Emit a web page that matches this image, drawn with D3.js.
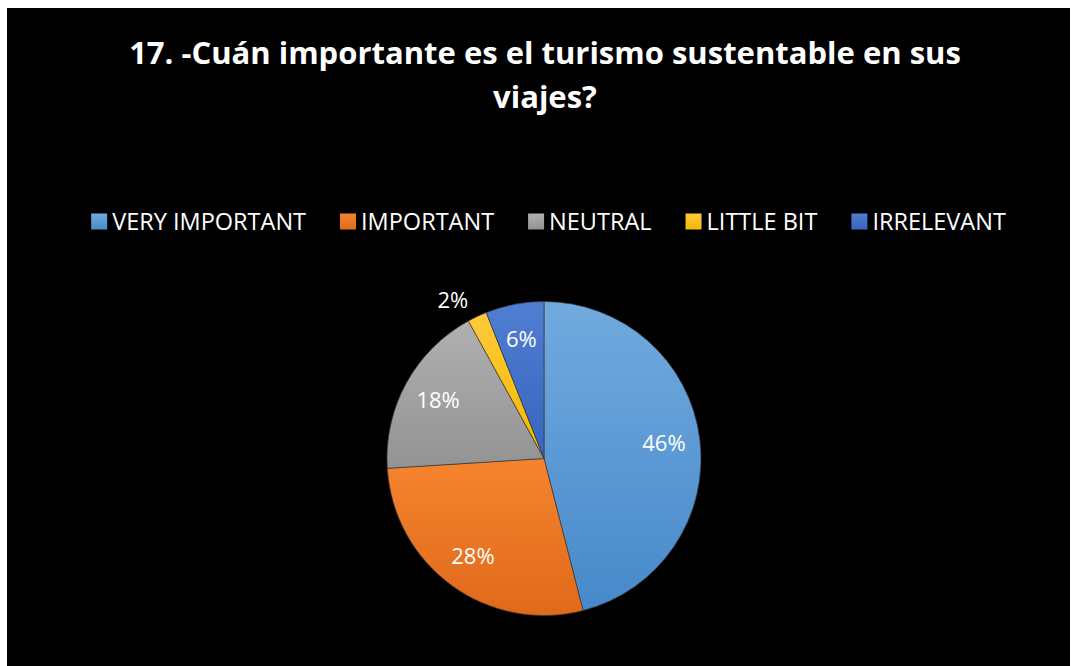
<!DOCTYPE html>
<html>
<head>
<meta charset="utf-8">
<script src="https://cdn.jsdelivr.net/npm/d3@7"></script>
<style>
  html, body { margin: 0; padding: 0; background: #ffffff; }
  svg { display: block; }
</style>
</head>
<body>
<svg id="chart" width="1073" height="666"></svg>
<script>
// ---- data ----
const categories = ["VERY IMPORTANT", "IMPORTANT", "NEUTRAL", "LITTLE BIT", "IRRELEVANT"];
const values = [46, 28, 18, 2, 6];
const colorsTop = ["#72aadf", "#f5842f", "#b0b0b0", "#ffca3a", "#4f7ed2"];
const colorsBottom = ["#4689ca", "#e0691a", "#939393", "#f5b800", "#3865bd"];
const titleLines = ["17. -Cuán importante es el turismo sustentable en sus", "viajes?"];

const W = 1073, H = 666;
const svg = d3.select("#chart");

// background panel
svg.append("rect").attr("x", 7).attr("y", 8).attr("width", 1063).attr("height", 658).attr("fill", "#000");

// gradients
const defs = svg.append("defs");
categories.forEach((c, i) => {
  const g = defs.append("linearGradient").attr("id", "grad" + i)
    .attr("x1", 0).attr("y1", 0).attr("x2", 0).attr("y2", 1);
  g.append("stop").attr("offset", "0%").attr("stop-color", colorsTop[i]);
  g.append("stop").attr("offset", "100%").attr("stop-color", colorsBottom[i]);
});

// title
const title = svg.append("text")
  .attr("text-anchor", "middle")
  .attr("font-family", "'Open Sans', sans-serif")
  .attr("font-weight", "bold")
  .attr("font-size", 31)
  .attr("fill", "#fff");
titleLines.forEach((t, i) => {
  title.append("tspan").attr("x", 545).attr("y", 64 + i * 44).text(t);
});

// legend
const legendFont = 23.5;
const legend = svg.append("g").attr("font-family", "'Open Sans', sans-serif").attr("font-size", legendFont).attr("fill", "#fff");
const items = legend.selectAll("g").data(categories).join("g");
items.append("rect").attr("width", 16).attr("height", 16).attr("y", -16)
  .attr("fill", (d, i) => `url(#grad${i})`);
items.append("text").attr("x", 21).attr("y", 0).text(d => d);
let xpos = 0;
const gapItem = 34;
items.each(function () {
  const g = d3.select(this);
  const w = g.select("text").node().getComputedTextLength() + 21;
  g.attr("transform", `translate(${xpos},0)`);
  xpos += w + gapItem;
});
const totalW = xpos - gapItem;
legend.attr("transform", `translate(${548.5 - totalW / 2},229.5)`);

// pie
const cx = 544, cy = 458.5, r = 157;
const pie = d3.pie().sort(null).value(d => d);
const arcs = pie(values);
const arc = d3.arc().innerRadius(0).outerRadius(r);
const g = svg.append("g").attr("transform", `translate(${cx},${cy})`);
g.selectAll("path").data(arcs).join("path")
  .attr("d", arc)
  .attr("fill", (d, i) => `url(#grad${i})`)
  .attr("stroke", "#3a3a3a")
  .attr("stroke-width", 0.7);

const total = d3.sum(values);
const inArc = d3.arc().innerRadius(r * 0.77).outerRadius(r * 0.77);
const outArc = d3.arc().innerRadius(r * 1.06).outerRadius(r * 1.06);
g.selectAll("text.lbl").data(arcs).join("text")
  .attr("class", "lbl")
  .each(function (d) {
    const outside = d.value / total < 0.05;
    const p = (outside ? outArc : inArc).centroid(d);
    const t = d3.select(this);
    if (outside) {
      const left = p[0] < 0;
      t.attr("x", p[0] + (left ? -5 : 5)).attr("y", p[1])
        .attr("text-anchor", left ? "end" : "start");
    } else {
      t.attr("x", p[0]).attr("y", p[1]).attr("dy", "0.35em").attr("text-anchor", "middle");
    }
  })
  .attr("font-family", "'Open Sans', sans-serif")
  .attr("font-size", 22)
  .attr("fill", "#fff")
  .text(d => Math.round(d.value / total * 100) + "%");
</script>
</body>
</html>
